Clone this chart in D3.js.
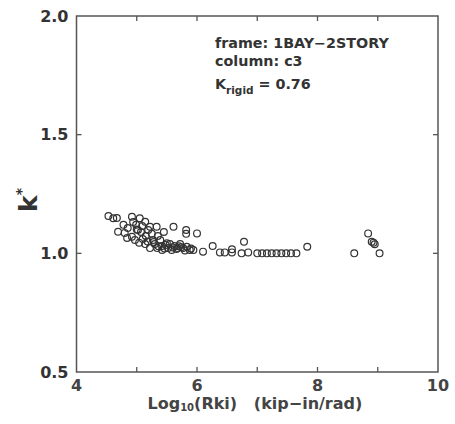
<!DOCTYPE html>
<html>
<head>
<meta charset="utf-8">
<script src="https://cdn.jsdelivr.net/npm/d3@7"></script>
<style>
  body { margin: 0; background: #fff; }
  text { font-family: "DejaVu Sans", sans-serif; fill: #333; white-space: pre; font-weight: bold; }
</style>
</head>
<body>
<div id="chart"></div>
<script>
// log10(Rki) values and k* values
var logRki = [4.53, 4.61, 4.67, 4.69, 4.78, 4.80, 4.85, 4.92, 4.94, 4.92, 4.97, 5.04, 5.05, 4.99,
    5.02, 5.09, 5.14, 5.19, 5.22, 5.25, 5.27, 5.30, 5.33, 5.35, 5.39, 5.42, 5.45, 5.50, 5.52,
    5.55, 5.61, 5.63, 5.68, 5.72, 5.77, 5.82, 5.82, 5.83, 5.88, 5.94, 6.00, 5.14, 5.22, 5.34,
    5.42, 5.58, 5.15, 5.07, 4.84, 5.36, 5.46, 5.60, 5.66, 5.74, 5.80, 5.90, 5.28, 5.48, 5.70,
    5.10, 5.18, 5.00,
    6.10, 6.26, 6.38, 6.46, 6.58, 6.58, 6.74, 6.78, 6.85,
    7.00, 7.08, 7.16, 7.24, 7.32, 7.40, 7.48, 7.56, 7.65, 7.83,
    8.61, 8.84, 8.90, 8.93, 8.95, 9.03];
var kStar = [1.157, 1.148, 1.149, 1.091, 1.120, 1.086, 1.107, 1.154, 1.132, 1.070, 1.056, 1.045, 1.148, 1.120,
    1.098, 1.115, 1.133, 1.098, 1.112, 1.082, 1.056, 1.039, 1.112, 1.073, 1.056, 1.031, 1.090, 1.042, 1.022,
    1.039, 1.112, 1.031, 1.022, 1.039, 1.022, 1.098, 1.082, 1.028, 1.014, 1.014, 1.084, 1.039, 1.022, 1.022,
    1.014, 1.014, 1.073, 1.090, 1.065, 1.030, 1.020, 1.025, 1.018, 1.026, 1.012, 1.020, 1.048, 1.035, 1.030,
    1.060, 1.050, 1.100,
    1.007, 1.031, 1.004, 1.004, 1.017, 1.004, 1.000, 1.049, 1.004,
    1.000, 1.000, 1.000, 1.000, 1.000, 1.000, 1.000, 1.000, 1.000, 1.028,
    1.000, 1.084, 1.049, 1.045, 1.038, 1.000];

var xTicks = [5, 6, 7, 8, 9],
    xLabels = [4, 6, 8, 10],
    yTicks = [1.0, 1.5],
    yLabels = [0.5, 1.0, 1.5, 2.0];

var margin = {left: 76.5, top: 16, right: 17, bottom: 52},
    W = 455, H = 424,
    width = W - margin.left - margin.right,
    height = H - margin.top - margin.bottom;

var svg = d3.select("#chart").append("svg")
    .attr("width", W)
    .attr("height", H);

var g = svg.append("g")
    .attr("transform", "translate(" + margin.left + "," + margin.top + ")");

var x = d3.scaleLinear().domain([4, 10]).range([0, width]);
var y = d3.scaleLinear().domain([0.5, 2.0]).range([height, 0]);

var tick = 5, axisColor = "#555";

// frame
g.append("rect")
    .attr("width", width).attr("height", height)
    .attr("fill", "none").attr("stroke", axisColor).attr("stroke-width", 1.5);

// inward ticks on all four sides
xTicks.forEach(function(t) {
    g.append("line").attr("x1", x(t)).attr("x2", x(t)).attr("y1", height).attr("y2", height - tick)
        .attr("stroke", axisColor).attr("stroke-width", 1.3);
    g.append("line").attr("x1", x(t)).attr("x2", x(t)).attr("y1", 0).attr("y2", tick)
        .attr("stroke", axisColor).attr("stroke-width", 1.3);
});
yTicks.forEach(function(t) {
    g.append("line").attr("x1", 0).attr("x2", tick).attr("y1", y(t)).attr("y2", y(t))
        .attr("stroke", axisColor).attr("stroke-width", 1.3);
    g.append("line").attr("x1", width).attr("x2", width - tick).attr("y1", y(t)).attr("y2", y(t))
        .attr("stroke", axisColor).attr("stroke-width", 1.3);
});

g.selectAll(".xl").data(xLabels).enter().append("text")
    .attr("x", function(d) { return x(d); })
    .attr("y", height + 19)
    .attr("text-anchor", "middle")
    .style("font-size", "16px")
    .style("fill", "#444")
    .text(function(d) { return d; });

g.selectAll(".yl").data(yLabels).enter().append("text")
    .attr("x", -8)
    .attr("y", function(d) { return y(d); })
    .attr("dy", "0.35em")
    .attr("text-anchor", "end")
    .style("font-size", "16px")
    .text(function(d) { return d.toFixed(1); });

// axis titles
var xt = g.append("text")
    .attr("x", 71)
    .attr("y", height + 37)
    .style("font-size", "16px")
    .style("fill", "#444");
xt.append("tspan").text("Log");
xt.append("tspan").attr("dy", 2).style("font-size", "10px").text("10");
xt.append("tspan").attr("dy", -2).text("(Rki)   (kip\u2212in/rad)");

var yt = svg.append("text")
    .attr("transform", "translate(37,200) rotate(-90)")
    .attr("text-anchor", "middle")
    .style("font-size", "25px");
yt.append("tspan").text("k");
yt.append("tspan").attr("dy", -11).style("font-size", "14px").text("*");

// annotation
var ann = svg.append("g").attr("transform", "translate(215,0)");
ann.append("text").attr("y", 48).style("font-size", "14.3px")
    .text("frame: 1BAY\u22122STORY");
ann.append("text").attr("y", 66).style("font-size", "14.3px")
    .text("column: c3");
var kr = ann.append("text").attr("y", 89).style("font-size", "14.3px");
kr.append("tspan").text("K");
kr.append("tspan").attr("dy", 5).style("font-size", "10.5px").text("rigid");
kr.append("tspan").attr("dy", -5).text(" = 0.76");

// points
g.selectAll("circle").data(logRki).enter().append("circle")
    .attr("cx", function(d) { return x(d); })
    .attr("cy", function(d, i) { return y(kStar[i]); })
    .attr("r", 3.4)
    .attr("fill", "none")
    .attr("stroke", "#333")
    .attr("stroke-width", 1.2);
</script>
</body>
</html>
